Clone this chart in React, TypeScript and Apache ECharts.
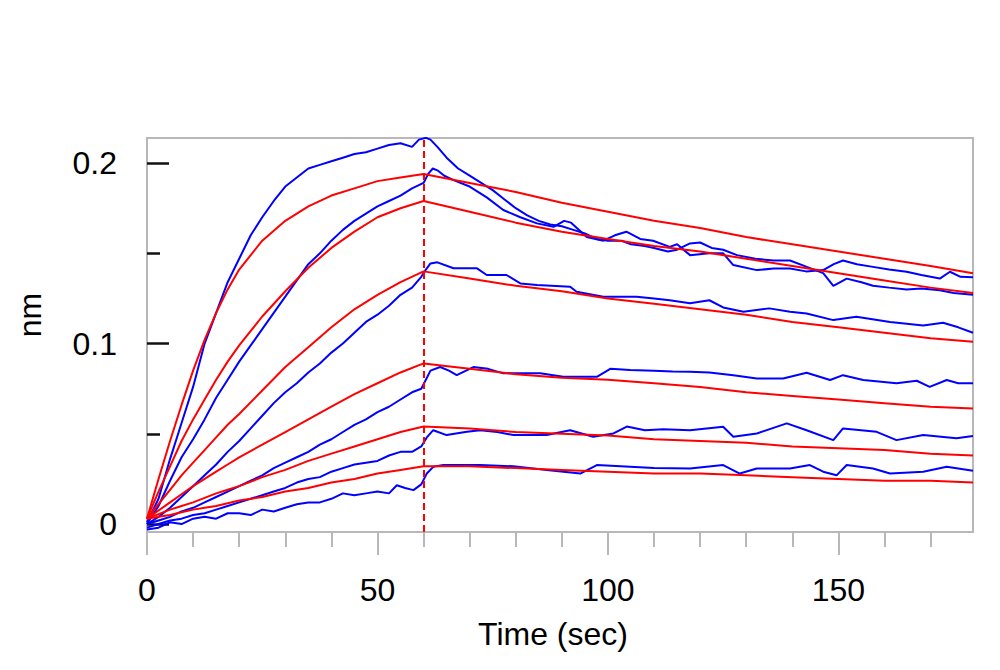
import React, { useEffect, useRef } from "react";
import * as echarts from "echarts";

// ---- Data ----
const xMajorTicks = [0, 50, 100, 150];
const xMinorTicks = [10, 20, 30, 40, 60, 70, 80, 90, 110, 120, 130, 140, 160, 170];
const yMajorTicks = [0, 0.1, 0.2];
const yMinorTicks = [0.05, 0.15];
const injectionEnd = 60;

const redT = [0, 2.5, 5, 7.5, 10, 12.5, 15, 17.5, 20, 25, 30, 35, 40, 45, 50, 55, 60, 70, 80, 90, 100, 110, 120, 130, 140, 150, 160, 170, 179.2];
const red1 = [0.003, 0.025, 0.046, 0.066, 0.085, 0.102, 0.117, 0.13, 0.141, 0.157, 0.168, 0.176, 0.182, 0.186, 0.19, 0.192, 0.194, 0.189, 0.184, 0.178, 0.173, 0.168, 0.164, 0.159, 0.155, 0.151, 0.147, 0.143, 0.139];
const red2 = [0.003, 0.018, 0.032, 0.046, 0.058, 0.069, 0.08, 0.09, 0.099, 0.115, 0.129, 0.142, 0.153, 0.162, 0.17, 0.175, 0.179, 0.173, 0.167, 0.162, 0.158, 0.154, 0.151, 0.147, 0.143, 0.139, 0.135, 0.131, 0.128];
const red3 = [0.003, 0.011, 0.019, 0.027, 0.034, 0.041, 0.048, 0.055, 0.061, 0.074, 0.087, 0.098, 0.109, 0.119, 0.127, 0.134, 0.14, 0.136, 0.132, 0.129, 0.125, 0.122, 0.119, 0.116, 0.112, 0.109, 0.106, 0.103, 0.101];
const red4 = [0.003, 0.0075, 0.012, 0.0165, 0.021, 0.025, 0.029, 0.033, 0.037, 0.044, 0.051, 0.058, 0.065, 0.072, 0.078, 0.084, 0.089, 0.086, 0.083, 0.081, 0.08, 0.078, 0.076, 0.073, 0.071, 0.069, 0.067, 0.065, 0.064];
const red5 = [0.003, 0.0055, 0.008, 0.01, 0.012, 0.0145, 0.017, 0.019, 0.021, 0.026, 0.03, 0.035, 0.039, 0.043, 0.047, 0.051, 0.054, 0.053, 0.051, 0.05, 0.049, 0.047, 0.046, 0.045, 0.043, 0.042, 0.041, 0.039, 0.038];
const red6 = [0.003, 0.004, 0.005, 0.0065, 0.008, 0.009, 0.01, 0.0115, 0.013, 0.015, 0.018, 0.02, 0.023, 0.025, 0.028, 0.03, 0.032, 0.032, 0.031, 0.03, 0.029, 0.028, 0.028, 0.027, 0.026, 0.025, 0.024, 0.024, 0.023];

const blue1: [number, number][] = [
  [0, 0.001], [2.5, 0.014], [5, 0.036], [7.5, 0.056], [10, 0.076], [12.5, 0.1], [15, 0.117], [17.5, 0.134], [20, 0.147], [22.5, 0.16], [25, 0.17], [27.5, 0.179], [30, 0.187], [32.5, 0.192], [35, 0.197], [37.5, 0.199], [40, 0.201], [42.5, 0.203], [45, 0.205], [47.5, 0.206], [50, 0.208], [52.5, 0.21], [55, 0.211], [57.5, 0.209], [59, 0.213], [60.5, 0.214], [61.5, 0.213], [63, 0.209], [65, 0.203], [67.5, 0.197], [70, 0.193], [72.5, 0.189], [75, 0.185], [77.5, 0.18], [80, 0.175], [82.5, 0.171], [85, 0.168], [87.5, 0.166], [90, 0.165], [92.5, 0.163], [95, 0.161], [97.5, 0.158], [100, 0.157], [103, 0.157], [105, 0.155], [108, 0.154], [110, 0.153], [113, 0.151], [115, 0.152], [117.8, 0.1555], [120, 0.156], [122.5, 0.153], [125, 0.152], [128, 0.149], [132, 0.147], [136, 0.146], [139.5, 0.146], [143, 0.1426], [146.7, 0.139], [148.9, 0.132], [151.8, 0.136], [155, 0.134], [157.5, 0.132], [161, 0.131], [164.8, 0.13], [168, 0.1305], [172, 0.1296], [175, 0.128], [179.2, 0.127],
];
const blue2: [number, number][] = [
  [0, 0.0], [2.5, 0.01], [5, 0.024], [7.5, 0.037], [10, 0.047], [12.5, 0.058], [15, 0.07], [17.5, 0.08], [20, 0.09], [22.5, 0.099], [25, 0.108], [27.5, 0.117], [30, 0.126], [32.5, 0.135], [35, 0.144], [37.5, 0.15], [40, 0.157], [42.5, 0.163], [45, 0.168], [47.5, 0.172], [50, 0.176], [52.5, 0.179], [55, 0.182], [57.5, 0.186], [60, 0.189], [61, 0.194], [62, 0.197], [63, 0.196], [64.5, 0.193], [66.5, 0.1906], [70, 0.187], [73.7, 0.181], [77.3, 0.174], [81, 0.17], [84.6, 0.1666], [88.2, 0.1647], [90.5, 0.168], [92, 0.167], [95.4, 0.159], [99, 0.157], [101.5, 0.16], [104, 0.162], [107, 0.158], [109.8, 0.157], [113.4, 0.1536], [115, 0.155], [117.8, 0.149], [122, 0.15], [125, 0.15], [127.2, 0.1435], [132.3, 0.1407], [136, 0.1416], [139.5, 0.1416], [143, 0.14], [146.7, 0.1407], [149, 0.144], [151, 0.146], [154, 0.144], [157.5, 0.1425], [161, 0.141], [164.8, 0.1398], [168, 0.138], [172, 0.136], [174.2, 0.1398], [176.5, 0.137], [179.2, 0.1367],
];
const blue3: [number, number][] = [
  [0, 0.0], [2.5, 0.004], [5, 0.009], [7.5, 0.015], [10, 0.021], [12.5, 0.027], [15, 0.033], [17.5, 0.04], [20, 0.046], [22.5, 0.053], [25, 0.06], [27.5, 0.067], [30, 0.073], [32.5, 0.078], [35, 0.084], [37.5, 0.089], [40, 0.095], [42.5, 0.1], [45, 0.106], [47.5, 0.112], [50, 0.116], [52.5, 0.121], [55, 0.127], [57.5, 0.131], [59.5, 0.137], [60.5, 0.141], [61.5, 0.1444], [63, 0.145], [66.5, 0.1417], [71.6, 0.1417], [73.7, 0.138], [78, 0.138], [81, 0.1333], [84.6, 0.1324], [91.8, 0.1315], [93.2, 0.1287], [99, 0.126], [106.2, 0.126], [110, 0.125], [113.4, 0.124], [117.8, 0.1223], [122, 0.124], [125, 0.12], [129.4, 0.1176], [135, 0.1195], [139.5, 0.1176], [143.1, 0.1167], [148.9, 0.113], [153.9, 0.1149], [161.2, 0.112], [168.4, 0.11], [172.7, 0.1115], [176, 0.109], [179.2, 0.106],
];
const blue4: [number, number][] = [
  [0, 0.0], [2.5, 0.002], [5, 0.004], [7.5, 0.007], [10, 0.009], [12.5, 0.012], [15, 0.015], [17.5, 0.018], [20, 0.021], [22.5, 0.024], [25, 0.027], [27.5, 0.031], [30, 0.034], [32.5, 0.037], [35, 0.04], [37.5, 0.044], [40, 0.047], [42.5, 0.051], [45, 0.055], [47.5, 0.058], [50, 0.062], [52.5, 0.065], [55, 0.069], [57.5, 0.073], [59.5, 0.075], [60.5, 0.08], [61.5, 0.085], [63.6, 0.087], [65.5, 0.085], [67.2, 0.0825], [70.8, 0.087], [74, 0.086], [77.3, 0.0835], [85.3, 0.0835], [90.3, 0.0816], [97.6, 0.0816], [100.5, 0.086], [104.8, 0.0853], [110, 0.085], [114, 0.0845], [117.8, 0.0844], [122, 0.084], [127.2, 0.0825], [132.3, 0.0807], [138, 0.0807], [143.1, 0.0838], [148.2, 0.0798], [151, 0.0825], [155.4, 0.0798], [162.6, 0.078], [167, 0.0794], [169.8, 0.076], [173.5, 0.0798], [176, 0.078], [179.2, 0.078],
];
const blue5: [number, number][] = [
  [0, -0.002], [2.5, 0.0], [5, 0.002], [7.5, 0.003], [10, 0.005], [12.5, 0.006], [15, 0.008], [17.5, 0.01], [20, 0.012], [22.5, 0.014], [25, 0.016], [27.5, 0.018], [30, 0.02], [32.5, 0.023], [35, 0.025], [37.5, 0.026], [40, 0.029], [42.5, 0.031], [45, 0.033], [47.5, 0.034], [50, 0.035], [52.5, 0.038], [55, 0.04], [57.5, 0.04], [59.5, 0.043], [60.7, 0.048], [62.1, 0.052], [65, 0.0493], [69.4, 0.0511], [72.3, 0.052], [76, 0.051], [79.5, 0.0493], [86.7, 0.0493], [91.8, 0.052], [96.8, 0.0484], [101.2, 0.0502], [104.1, 0.054], [108, 0.052], [112, 0.0525], [117.8, 0.052], [125, 0.0539], [127.2, 0.0484], [132.3, 0.0502], [138.8, 0.0558], [143.1, 0.052], [148.9, 0.0465], [151, 0.053], [158.3, 0.0511], [162.6, 0.0465], [168.4, 0.0493], [175.6, 0.0475], [179.2, 0.0488],
];
const blue6: [number, number][] = [
  [0, -0.003], [2.5, -0.002], [5, 0.001], [7.5, 0.0], [10, 0.003], [12.5, 0.004], [15, 0.003], [17.5, 0.006], [20, 0.006], [22.5, 0.005], [25, 0.008], [27.5, 0.007], [30, 0.009], [32.5, 0.011], [35, 0.012], [37.5, 0.012], [40, 0.014], [42.5, 0.017], [45, 0.016], [47.5, 0.017], [50, 0.018], [52.5, 0.017], [54.2, 0.0215], [56, 0.02], [57.8, 0.0188], [59.5, 0.022], [60.7, 0.028], [62.1, 0.0317], [64.3, 0.0327], [72.3, 0.0327], [79.5, 0.032], [86.7, 0.03], [94, 0.028], [97.6, 0.0327], [104.8, 0.0317], [110, 0.031], [117.8, 0.0308], [125, 0.0327], [128.6, 0.028], [132.3, 0.0308], [139.5, 0.0308], [143.8, 0.0327], [146.7, 0.029], [149.6, 0.027], [151.8, 0.0327], [157.5, 0.0308], [161.2, 0.028], [168.4, 0.029], [173.5, 0.0317], [179.2, 0.0295],
];

const blues = [blue1, blue2, blue3, blue4, blue5, blue6];
const reds = [red1, red2, red3, red4, red5, red6];

const X_MIN = 0;
const X_MAX = 179.2;
const Y_MIN = -0.0044;
const Y_MAX = 0.2139;

const FONT = "'Liberation Sans', Arial, sans-serif";

export default function App() {
  const ref = useRef<HTMLDivElement>(null);

  useEffect(() => {
    if (!ref.current) return;
    const chart = echarts.init(ref.current, undefined, { renderer: "svg" });

    const blueSeries = blues.map((d, i) => ({
      type: "line",
      name: "data" + (i + 1),
      data: d,
      showSymbol: false,
      symbol: "none",
      lineStyle: { color: "#0000ff", width: 2 },
      z: 2,
    }));
    const redSeries = reds.map((vals, i) => ({
      type: "line",
      name: "fit" + (i + 1),
      data: redT.map((t, j) => [t, vals[j]]),
      showSymbol: false,
      symbol: "none",
      smooth: false,
      lineStyle: { color: "#ff0000", width: 2 },
      z: 3,
      ...(i === 0
        ? {
            markLine: {
              silent: true,
              symbol: ["none", "none"],
              label: { show: false },
              lineStyle: { color: "#ff0000", type: [7, 4], width: 2 },
              data: [{ xAxis: injectionEnd }],
            },
          }
        : {}),
    }));

    const option: any = {
      animation: false,
      backgroundColor: "#ffffff",
      grid: {
        left: 147,
        right: 27,
        top: 138,
        bottom: 138,
        show: true,
        borderColor: "#b8b8b8",
        borderWidth: 2,
        backgroundColor: "transparent",
        containLabel: false,
        outerBoundsMode: "none",
      },
      xAxis: [
        {
          type: "value",
          min: X_MIN,
          max: X_MAX,
          position: "bottom",
          axisLine: { show: false, onZero: false },
          splitLine: { show: false },
          axisTick: {
            show: true,
            customValues: xMajorTicks,
            length: 23,
            lineStyle: { color: "#b8b8b8", width: 2 },
          },
          axisLabel: {
            customValues: xMajorTicks,
            margin: 42,
            fontSize: 32,
            color: "#000",
            fontFamily: FONT,
          },
        },
        {
          type: "value",
          min: X_MIN,
          max: X_MAX,
          position: "bottom",
          axisLine: { show: false, onZero: false },
          splitLine: { show: false },
          axisTick: {
            show: true,
            customValues: xMinorTicks,
            length: 15,
            lineStyle: { color: "#b8b8b8", width: 2 },
          },
          axisLabel: { show: false },
        },
      ],
      yAxis: [
        {
          type: "value",
          min: Y_MIN,
          max: Y_MAX,
          position: "left",
          axisLine: { show: false, onZero: false },
          splitLine: { show: false },
          axisTick: {
            show: true,
            inside: true,
            customValues: yMajorTicks,
            length: 22,
            lineStyle: { color: "#111", width: 2.5 },
          },
          axisLabel: {
            customValues: yMajorTicks,
            margin: 30,
            fontSize: 32,
            color: "#000",
            fontFamily: FONT,
          },
        },
        {
          type: "value",
          min: Y_MIN,
          max: Y_MAX,
          position: "left",
          axisLine: { show: false, onZero: false },
          splitLine: { show: false },
          axisTick: {
            show: true,
            inside: true,
            customValues: yMinorTicks,
            length: 13,
            lineStyle: { color: "#111", width: 2.5 },
          },
          axisLabel: { show: false },
        },
      ],
      graphic: [
        {
          type: "text",
          x: 553,
          y: 634,
          style: {
            text: "Time (sec)",
            fontSize: 32,
            fontFamily: FONT,
            fill: "#000",
            align: "center",
            verticalAlign: "middle",
          },
        },
        {
          type: "text",
          x: 30,
          y: 315,
          rotation: Math.PI / 2,
          style: {
            text: "nm",
            fontSize: 32,
            fontFamily: FONT,
            fill: "#000",
            align: "center",
            verticalAlign: "middle",
          },
        },
      ],
      series: [...blueSeries, ...redSeries],
    };

    chart.setOption(option);
    return () => chart.dispose();
  }, []);

  return (
    <div
      ref={ref}
      style={{ position: "fixed", left: 0, top: 0, width: 1000, height: 670, background: "#fff" }}
    />
  );
}
